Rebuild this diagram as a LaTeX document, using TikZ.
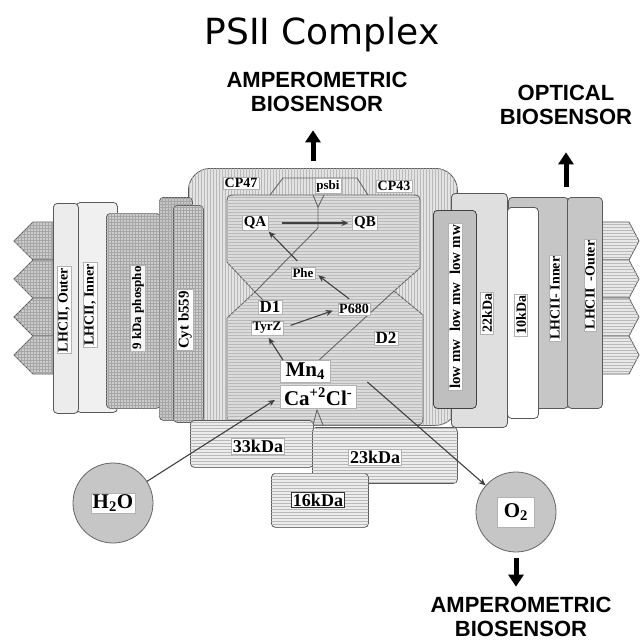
\documentclass[tikz,border=0pt]{standalone}
\usepackage{fontspec}
\setmainfont{Liberation Serif}
\newfontfamily\titlefont{DejaVu Sans}
\newfontfamily\sensorfont{Liberation Sans}
\usetikzlibrary{arrows.meta,patterns,positioning}

\begin{document}
\begin{tikzpicture}[x=1pt, y=-1pt,
  part/.style={draw=black!65, line width=0.8pt, rounded corners=4pt, inner sep=0pt, anchor=north west},
  lbl/.style={draw=gray!60, fill=white, inner sep=1.5pt, font=\bfseries\fontsize{#1}{#1}\selectfont},
  lbl/.default=14,
  vlbl/.style={lbl=#1, rotate=90},
  vlbl/.default=14,
  dline/.style={draw=black!60, line width=0.9pt},
  hstripe/.style={postaction={pattern=horizontal lines, pattern color=gray!55}},
  vstripe/.style={postaction={pattern=vertical lines, pattern color=gray!55}},
  mesh/.style={postaction={pattern=grid, pattern color=gray!70}},
  thinarrow/.style={draw=black!75, line width=1.1pt, -{Stealth[length=7pt,width=6pt]}},
  bigarrow/.style={line width=5pt, -{Triangle[length=12pt,width=15pt]}},
  sensor/.style={font=\sensorfont\bfseries\fontsize{22}{24}\selectfont, align=center},
  blob/.style={circle, draw=black!60, line width=0.8pt, fill=gray!45, minimum size=80pt, inner sep=0pt}]
\useasboundingbox (0,0) rectangle (641,642);

\node[font=\titlefont\fontsize{36}{40}\selectfont, anchor=base] (title) at (322,45) {PSII Complex};
\node[sensor] (ampTop) at (317,92) {AMPEROMETRIC\\BIOSENSOR};
\node[sensor] (optic) at (566,105) {OPTICAL\\BIOSENSOR};
\node[sensor] (ampBot) at (521,617) {AMPEROMETRIC\\BIOSENSOR};

\foreach \y in {222,260,298,336}{
  \draw[part, sharp corners, fill=gray!40, mesh] (53,\y) -- (33,\y) -- (14,\y+19) -- (33,\y+38) -- (53,\y+38) -- cycle;
  \draw[part, sharp corners, fill=gray!18, hstripe] (602,\y) -- (629,\y) -- (639,\y+19) -- (629,\y+38) -- (602,\y+38) -- cycle;
}

\node[part, rounded corners=22pt, fill=gray!22, vstripe, minimum width=269, minimum height=257] (cpcore) at (188,168) {};
\draw[dline, fill=gray!28, hstripe] (227,262) -- (227,205) .. controls (227,195) .. (237,195) -- (410,195) .. controls (420,195) .. (420,205) -- (420,268) -- (394,291) -- (423,315) -- (423,413) .. controls (423,425) .. (411,425) -- (239,425) .. controls (227,425) .. (227,413) -- (227,318) -- (255,292) -- cycle;
\coordinate (d1cross) at (255,292);
\coordinate (d2cross) at (394,291);
\coordinate (d1end) at (268,305);
\coordinate (d2end) at (317,362);
\draw[dline] (270,195) -- (283,178) -- (357,178) -- (368,195);
\draw[dline] (313,195) -- (318,207) -- (324,195);
\draw[dline] (318,207) -- (318,228) -- (d1cross) -- (d1end);
\draw[dline] (d2cross) -- (d2end);
\draw[dline] (313,425) -- (317,410) -- (323,425);

\node[lbl] (cp47) at (241,183) {CP47};
\node[lbl=13] (psbi) at (328,186) {psbi};
\node[lbl] (cp43) at (394,186) {CP43};
\node[lbl=15] (qa) at (255,223) {QA};
\node[lbl=15] (qb) at (365,223) {QB};
\node[lbl=13] (phe) at (303,273) {Phe};
\node[lbl] (p680) at (354,309) {P680};
\node[lbl=17] (d1) at (270,307) {D1};
\node[lbl=13] (tyrz) at (267,328) {TyrZ};
\node[lbl=17] (d2) at (386,338) {D2};
\node[lbl=21, anchor=north west, minimum width=50, minimum height=22] (mn) at (280,360) {Mn\textsubscript{4}};
\node[lbl=21, anchor=north west, minimum width=76, minimum height=23] (ca) at (280,385) {Ca\textsuperscript{+2}Cl\textsuperscript{-}};

\draw[thinarrow, shorten <=14pt, shorten >=4pt] (qa) -- (qb);
\draw[thinarrow, shorten <=8pt, shorten >=1pt] (phe.north) -- (qa.south east);
\draw[thinarrow, shorten <=6pt, shorten >=4pt] (p680.north) -- (phe.east);
\draw[thinarrow, shorten <=8pt, shorten >=5pt] (tyrz.east) -- (p680.west);
\draw[thinarrow, shorten >=3pt] ([xshift=3pt]mn.north west) -- (tyrz.south);

\node[part, fill=gray!12, minimum width=41, minimum height=210] (lhcInL) at (76,202) {};
\node[part, fill=gray!15, minimum width=25, minimum height=210] (lhcOutL) at (53,203) {};
\node[part, fill=gray!40, mesh, minimum width=54, minimum height=195] (kda9) at (106,213) {};
\node[part, fill=gray!45, mesh, minimum width=33, minimum height=223] (cytback) at (159,197) {};
\node[part, fill=gray!38, mesh, minimum width=30, minimum height=217] (cyt) at (173,205) {};
\node[vlbl] (lhcOutLlbl) at (64,310) {LHCII, Outer};
\node[vlbl] (lhcInLlbl) at (90,305) {LHCII, Inner};
\node[vlbl=13, fill=gray!8] (kda9lbl) at (138,308) {9 kDa phospho};
\node[vlbl=15] (cytlbl) at (185,320) {Cyt b559};

\node[part, fill=gray!45, minimum width=60, minimum height=211] (lhcInR) at (508,197) {};
\node[part, fill=gray!45, minimum width=35, minimum height=211] (lhcOutR) at (567,197) {};
\node[part, fill=white, minimum width=31, minimum height=211] (kda10) at (507,207) {};
\node[part, fill=gray!25, minimum width=56, minimum height=234] (kda22) at (451,193) {};
\node[part, draw=black!75, fill=gray!50, minimum width=43, minimum height=198] (lowmw) at (433,210) {};
\node[vlbl=15] (lowmwlbl) at (455,307) {low mw\ \ low mw\ \ low mw};
\node[vlbl] (kda22lbl) at (487,313) {22kDa};
\node[vlbl] (kda10lbl) at (521,315) {10kDa};
\node[vlbl] (lhcInRlbl) at (555,298) {LHCII- Inner};
\node[vlbl] (lhcOutRlbl) at (590,285) {LHCII\ \ -Outer};

\node[part, fill=gray!15, hstripe, minimum width=123, minimum height=47] (kda33) at (190,420) {};
\node[part, fill=gray!15, hstripe, minimum width=145, minimum height=56] (kda23) at (312,427) {};
\node[part, fill=gray!15, hstripe, minimum width=97, minimum height=54] (kda16) at (271,473) {};
\node[lbl=18] (kda33lbl) at (258,446) {33kDa};
\node[lbl=18] (kda23lbl) at (375,457) {23kDa};
\node[lbl=18, draw=black!80, line width=0.8pt] (kda16lbl) at (318,500) {16kDa};

\node[blob] (h2o) at (113,503) {};
\node[lbl=21] (h2olbl) at (h2o) {H\textsubscript{2}O};
\node[blob] (o2) at (516,512) {};
\node[lbl=21, minimum width=37, minimum height=30] (o2lbl) at (o2) {O\textsubscript{2}};

\draw[thinarrow, shorten >=6pt] (h2o) -- (ca.west);
\draw[thinarrow] ([shift={(11,-3)}]ca.north east) -- (o2);

\coordinate (cptop) at (313,161);
\coordinate (lhctop) at (566,187);
\draw[bigarrow, shorten >=15pt] (cptop) -- (cptop |- ampTop.south);
\draw[bigarrow, shorten >=24pt] (lhctop) -- (lhctop |- optic.south);
\draw[bigarrow, shorten <=6pt, shorten >=7pt] (o2.south) -- (o2.south |- ampBot.north);
\end{tikzpicture}
\end{document}
